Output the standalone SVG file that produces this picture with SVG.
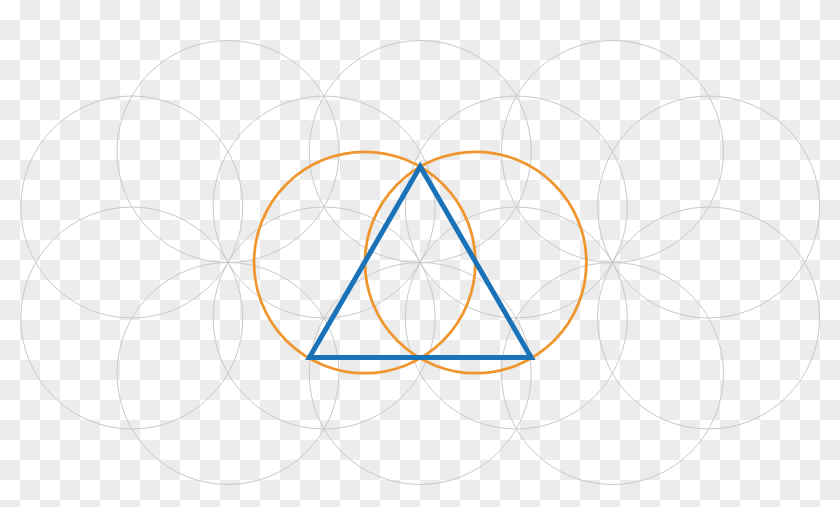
<svg xmlns="http://www.w3.org/2000/svg" width="840" height="507" viewBox="0 0 840 507">
<defs>
<pattern id="checker" x="0" y="0" width="40" height="40" patternUnits="userSpaceOnUse">
<rect width="40" height="40" fill="#ffffff"/>
<rect x="20" y="0" width="20" height="20" fill="#ececec"/>
<rect x="0" y="20" width="20" height="20" fill="#ececec"/>
</pattern>
<style>
.g{fill:none;stroke:#c9c9c9;stroke-width:1}
.o{fill:none;stroke:#ef962f;stroke-width:2.8}
.b{fill:none;stroke:#1a73b8;stroke-width:5;stroke-linejoin:miter}
</style>
</defs>
<rect width="840" height="507" fill="url(#checker)"/>
<g id="grid">
<circle class="g" cx="228" cy="151.5" r="111"/>
<circle class="g" cx="420.2" cy="151.5" r="111"/>
<circle class="g" cx="612.5" cy="151.5" r="111"/>
<circle class="g" cx="131.8" cy="207" r="111"/>
<circle class="g" cx="324.1" cy="207" r="111"/>
<circle class="g" cx="516.3" cy="207" r="111"/>
<circle class="g" cx="708.6" cy="207" r="111"/>
<circle class="g" cx="131.8" cy="318" r="111"/>
<circle class="g" cx="324.1" cy="318" r="111"/>
<circle class="g" cx="516.3" cy="318" r="111"/>
<circle class="g" cx="708.6" cy="318" r="111"/>
<circle class="g" cx="228" cy="373.5" r="111"/>
<circle class="g" cx="420.2" cy="373.5" r="111"/>
<circle class="g" cx="612.5" cy="373.5" r="111"/>
</g>
<g id="orange-left"><circle class="o" cx="364.7" cy="262.5" r="110.7"/></g>
<g id="orange-right"><circle class="o" cx="475.7" cy="262.5" r="110.7"/></g>
<g id="triangle"><polygon class="b" points="420.2,166.6 309.4,357.5 531.2,357.5"/></g>
</svg>
